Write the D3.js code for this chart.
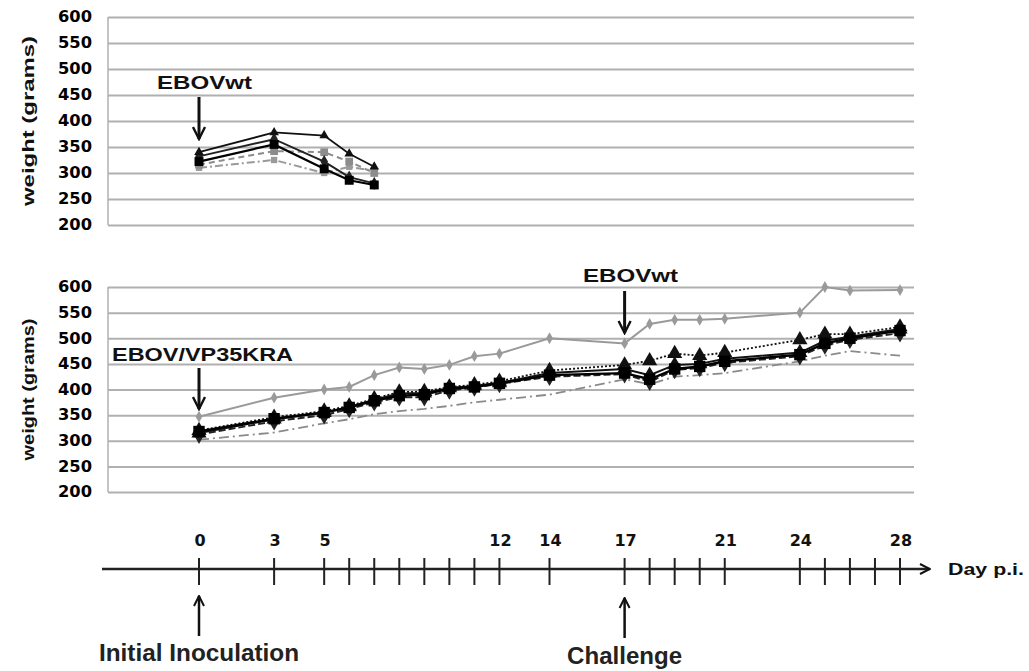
<!DOCTYPE html>
<html>
<head>
<meta charset="utf-8">
<script src="https://cdn.jsdelivr.net/npm/d3@7"></script>
<style>
  body { margin: 0; background: #fff; }
  svg { display: block; font-family: "Liberation Sans", Arial, sans-serif; }
</style>
</head>
<body>
<div class="chart"></div>
<script>
// ---- data ----
var yTicks = [200, 250, 300, 350, 400, 450, 500, 550, 600];

// top panel: EBOVwt only
var topDays = [0, 3, 5, 6, 7];
var topA = [340, 378, 372, 337, 312];
var topB = [322, 355, 308, 286, 277];
var topC = [332, 365, 322, 292, 280];
var topD = [316, 342, 340, 322, 300];
var topE = [310, 325, 300, 312, 304];

// bottom panel: EBOV/VP35KRA then EBOVwt challenge
var botDays = [0, 3, 5, 6, 7, 8, 9, 10, 11, 12, 14, 17, 18, 19, 20, 21, 24, 25, 26, 28];
var botGray = [347, 384, 400, 405, 428, 443, 440, 448, 465, 470, 500, 490, 528, 536, 536, 538, 550, 600, 593, 594];
var botA = [318, 343, 355, 365, 378, 388, 390, 402, 405, 412, 428, 432, 420, 440, 445, 455, 468, 490, 500, 515];
var botB = [315, 342, 355, 366, 380, 392, 393, 403, 407, 413, 432, 440, 428, 448, 450, 460, 472, 495, 503, 518];
var botC = [320, 346, 358, 368, 382, 395, 396, 405, 409, 416, 437, 448, 456, 470, 466, 472, 497, 508, 508, 522];
var botD = [312, 338, 350, 362, 375, 385, 385, 398, 404, 411, 425, 430, 415, 438, 442, 452, 465, 486, 497, 510];
var botE = [302, 316, 334, 342, 352, 358, 362, 368, 375, 380, 390, 420, 410, 425, 428, 432, 455, 466, 475, 466];

// timeline
var tickDays = [0, 3, 5, 6, 7, 8, 9, 10, 11, 12, 14, 17, 18, 19, 20, 21, 24, 25, 26, 27, 28];
var labelDays = [0, 3, 5, 12, 14, 17, 21, 24, 28];

var width = 1029, height = 671;

var svg = d3.select(".chart").append("svg")
    .attr("width", width)
    .attr("height", height);

var x = d3.scaleLinear().domain([0, 28]).range([199, 900]);
var gridLeft = 108, gridRight = 914;

var yTop = d3.scaleLinear().domain([200, 600]).range([225, 17]);
var yBot = d3.scaleLinear().domain([200, 600]).range([492, 287]);

// arrowhead marker
var defs = svg.append("defs");
defs.append("marker")
    .attr("id", "arr")
    .attr("viewBox", "0 0 10 10")
    .attr("refX", 9).attr("refY", 5)
    .attr("markerWidth", 5).attr("markerHeight", 5)
    .attr("markerUnits", "strokeWidth")
    .attr("orient", "auto")
  .append("path")
    .attr("d", "M1,1 L9,5 L1,9")
    .attr("fill", "none")
    .attr("stroke", "#111")
    .attr("stroke-width", 1.6);

function drawPanel(yScale, labelLen) {
    var g = svg.append("g");
    // grid + tick labels
    var axis = d3.axisLeft(yScale).tickValues(yTicks).tickSize(-(gridRight - gridLeft)).tickPadding(16);
    var ax = g.append("g")
        .attr("transform", "translate(" + gridLeft + ",0)")
        .call(axis);
    ax.select(".domain").remove();
    ax.selectAll(".tick line").attr("stroke", "#b0b0b0").attr("stroke-width", 2);
    ax.selectAll(".tick text")
        .attr("fill", "#000")
        .style("font-size", "15px")
        .style("font-weight", "bold")
        .style("font-family", "'DejaVu Sans', sans-serif")
        .attr("textLength", 34)
        .attr("lengthAdjust", "spacingAndGlyphs");
    g.append("line")
        .attr("x1", gridLeft).attr("x2", gridLeft)
        .attr("y1", yScale(600)).attr("y2", yScale(200))
        .attr("stroke", "#b0b0b0").attr("stroke-width", 1.5);
    // axis title
    var cy = (yScale(600) + yScale(200)) / 2;
    g.append("text")
        .attr("transform", "translate(34," + cy + ") rotate(-90)")
        .attr("text-anchor", "middle")
        .attr("fill", "#111")
        .style("font-size", "17px")
        .style("font-weight", "bold")
        .attr("textLength", labelLen)
        .attr("lengthAdjust", "spacingAndGlyphs")
        .text("weight (grams)");
    return g;
}

function drawSeries(g, yScale, days, vals, st) {
    var pts = days.map(function(d, i) { return [d, vals[i]]; });
    var line = d3.line().x(function(d) { return x(d[0]); }).y(function(d) { return yScale(d[1]); });
    g.append("path")
        .datum(pts)
        .attr("d", line)
        .attr("fill", "none")
        .attr("stroke", st.color)
        .attr("stroke-width", st.width)
        .attr("stroke-dasharray", st.dash);
    g.selectAll(null)
        .data(pts)
        .enter().append("path")
        .attr("transform", function(d) { return "translate(" + x(d[0]) + "," + yScale(d[1]) + ")"; })
        .attr("d", d3.symbol().type(st.symbol).size(st.size))
        .attr("fill", st.color);
}

// ---- top panel ----
var gTop = drawPanel(yTop, 170);
drawSeries(gTop, yTop, topDays, topE, {color: "#9a9a9a", width: 2, dash: "8,3,2,3", symbol: d3.symbolSquare, size: 40});
drawSeries(gTop, yTop, topDays, topD, {color: "#8c8c8c", width: 2, dash: "6,4", symbol: d3.symbolSquare, size: 60});
drawSeries(gTop, yTop, topDays, topC, {color: "#222", width: 2, dash: null, symbol: d3.symbolDiamond, size: 50});
drawSeries(gTop, yTop, topDays, topA, {color: "#111", width: 1.8, dash: null, symbol: d3.symbolTriangle, size: 40});
drawSeries(gTop, yTop, topDays, topB, {color: "#000", width: 2.2, dash: null, symbol: d3.symbolSquare, size: 80});

// ---- bottom panel ----
var gBot = drawPanel(yBot, 142);
drawSeries(gBot, yBot, botDays, botE, {color: "#8a8a8a", width: 1.8, dash: "10,4,2,4", symbol: d3.symbolCircle, size: 0});
drawSeries(gBot, yBot, botDays, botGray, {color: "#9a9a9a", width: 2, dash: null, symbol: d3.symbolDiamond, size: 40});
drawSeries(gBot, yBot, botDays, botD, {color: "#222", width: 2, dash: "7,3", symbol: d3.symbolDiamond, size: 100});
drawSeries(gBot, yBot, botDays, botC, {color: "#111", width: 1.8, dash: "2,2", symbol: d3.symbolTriangle, size: 100});
drawSeries(gBot, yBot, botDays, botB, {color: "#111", width: 2, dash: null, symbol: d3.symbolTriangle, size: 100});
drawSeries(gBot, yBot, botDays, botA, {color: "#000", width: 2.4, dash: null, symbol: d3.symbolSquare, size: 130});

// ---- annotations ----
function annot(txt, tx, ty, len, ax, ay1, ay2) {
    svg.append("text")
        .attr("x", tx).attr("y", ty)
        .attr("fill", "#111")
        .style("font-size", "18px")
        .style("font-weight", "bold")
        .attr("textLength", len)
        .attr("lengthAdjust", "spacingAndGlyphs")
        .text(txt);
    svg.append("line")
        .attr("x1", ax).attr("x2", ax)
        .attr("y1", ay1).attr("y2", ay2)
        .attr("stroke", "#111").attr("stroke-width", 3)
        .attr("marker-end", "url(#arr)");
}
annot("EBOVwt", 157, 89, 95, x(0), 97, 139);
annot("EBOV/VP35KRA", 112, 361, 181, x(0), 368, 409);
annot("EBOVwt", 583, 282, 95, x(17), 291, 333);

// ---- timeline ----
var axY = 569;
var tl = svg.append("g");
tl.append("line")
    .attr("x1", 102).attr("x2", 930)
    .attr("y1", axY).attr("y2", axY)
    .attr("stroke", "#222").attr("stroke-width", 2.5)
    .attr("marker-end", "url(#arr)");
tl.selectAll(".tk")
    .data(tickDays)
    .enter().append("line")
    .attr("x1", function(d) { return x(d); })
    .attr("x2", function(d) { return x(d); })
    .attr("y1", axY - 11).attr("y2", axY + 16)
    .attr("stroke", "#222").attr("stroke-width", 2);
tl.selectAll(".lb")
    .data(labelDays)
    .enter().append("text")
    .attr("x", function(d) { return x(d) + 1; })
    .attr("y", 546)
    .attr("text-anchor", "middle")
    .attr("fill", "#111")
    .style("font-size", "16px")
    .style("font-weight", "bold")
    .style("font-family", "'DejaVu Sans', sans-serif")
    .text(function(d) { return d; });
tl.append("text")
    .attr("x", 948).attr("y", 575)
    .attr("fill", "#111")
    .style("font-size", "17px")
    .style("font-weight", "bold")
    .attr("textLength", 76)
    .attr("lengthAdjust", "spacingAndGlyphs")
    .text("Day p.i.");

function upArrow(day, y1, y2, txt, ty, len) {
    tl.append("line")
        .attr("x1", x(day)).attr("x2", x(day))
        .attr("y1", y1).attr("y2", y2)
        .attr("stroke", "#111").attr("stroke-width", 2.5)
        .attr("marker-end", "url(#arr)");
    tl.append("text")
        .attr("x", x(day)).attr("y", ty)
        .attr("text-anchor", "middle")
        .attr("fill", "#222")
        .style("font-size", "23px")
        .style("font-weight", "bold")
        .attr("textLength", len)
        .attr("lengthAdjust", "spacingAndGlyphs")
        .text(txt);
}
upArrow(0, 636, 596, "Initial Inoculation", 661, 200);
upArrow(17, 638, 598, "Challenge", 664, 115);
</script>
</body>
</html>
